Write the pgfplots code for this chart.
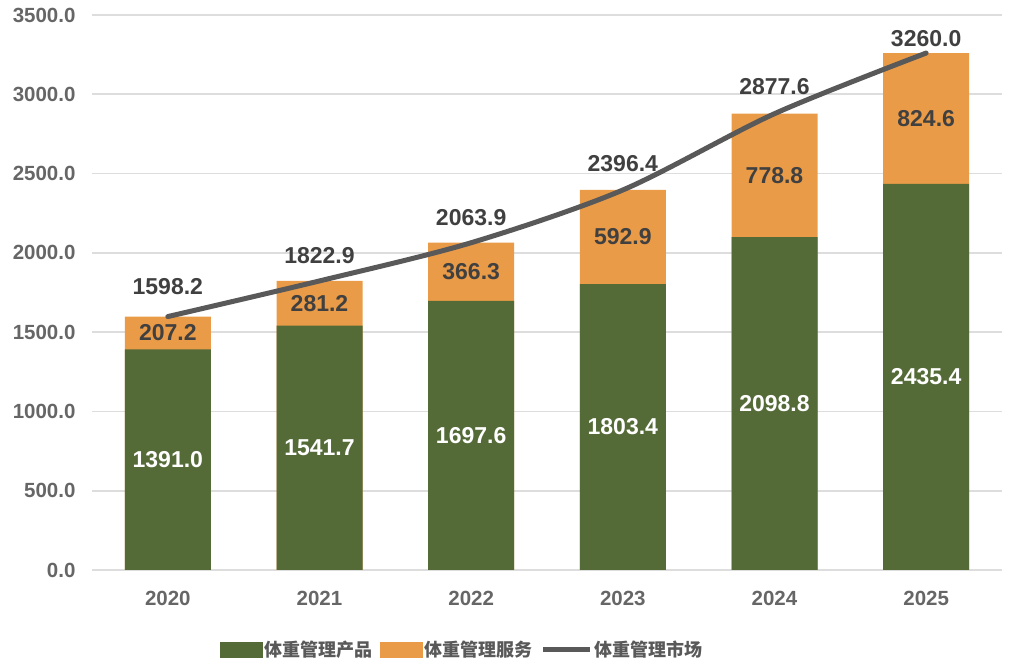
\documentclass[border=0pt]{standalone}
\usepackage{pgfplots}
\pgfplotsset{compat=1.18}
\usepackage{pgfplotstable}
\usepackage{fontspec}
\setmainfont{Liberation Sans}
\newfontfamily\cjk{Noto Sans CJK SC}
\definecolor{cgreen}{HTML}{546B38}
\definecolor{corange}{HTML}{E99B48}
\definecolor{cline}{HTML}{595959}
\definecolor{cgrid}{HTML}{DDDDDD}
\definecolor{ctick}{HTML}{666666}
\definecolor{clabel}{HTML}{404040}

\pgfplotstableread{
x p s t ty
0 1391.0 207.2 1598.2 1785
1 1541.7 281.2 1822.9 1980
2 1697.6 366.3 2063.9 2220
3 1803.4 592.9 2396.4 2560
4 2098.8 778.8 2877.6 3046
5 2435.4 824.6 3260.0 3352
}\data

\begin{document}
\begin{tikzpicture}
\useasboundingbox (0,0) rectangle (1010pt,671pt);
\begin{axis}[
  at={(92pt,101pt)}, anchor=south west, scale only axis,
  width=910pt, height=555pt,
  xmin=-0.5, xmax=5.5, ymin=0, ymax=3500,
  xtick={0,...,5}, xticklabels={2020,2021,2022,2023,2024,2025},
  ytick={0,500,...,3500},
  yticklabel={\pgfmathprintnumber[fixed,fixed zerofill,precision=1,1000 sep={}]{\tick}},
  /pgf/number format/assume math mode=true,
  axis line style={draw=none},
  major tick length=0pt,
  ymajorgrids, grid style={cgrid, line width=1.6pt},
  tick label style={font=\bfseries\fontsize{20.5}{24}\selectfont, text=ctick},
  yticklabel style={xshift=-13pt},
  xticklabel style={yshift=-18pt},
  clip=false,
  legend style={at={(0.407,-0.144)}, anchor=center, draw=none, fill=none,
    legend columns=3, font=\cjk\bfseries\fontsize{18}{20}\selectfont, text=cline,
    /tikz/every even column/.append style={column sep=6pt}},
]
\addlegendimage{legend image code/.code={\fill[cgreen] (0pt,-7pt) rectangle (42pt,8pt);}}
\addlegendentry{体重管理产品}
\addlegendimage{legend image code/.code={\fill[corange] (0pt,-7pt) rectangle (42pt,8pt);}}
\addlegendentry{体重管理服务}
\addlegendimage{legend image code/.code={\draw[cline, line width=5pt] (0pt,0.5pt) -- (47pt,0.5pt);}}
\addlegendentry{体重管理市场}

\addplot[forget plot, ybar, bar width=86pt, bar shift=0pt, fill=corange, draw=none] table[x=x, y=t] {\data};
\addplot[forget plot, ybar, bar width=86pt, bar shift=0pt, fill=cgreen, draw=none] table[x=x, y=p] {\data};
\addplot[forget plot, smooth, cline, line width=5pt, no marks, line cap=round] table[x=x, y=t] {\data};

% product labels
\addplot[forget plot, draw=none, no marks, nodes near coords, point meta=explicit symbolic,
  nodes near coords align={center},
  every node near coord/.style={text=white, font=\bfseries\fontsize{23}{26}\selectfont}]
  table[x=x, y expr=\thisrow{p}/2, meta=p] {\data};
% service labels
\addplot[forget plot, draw=none, no marks, nodes near coords, point meta=explicit symbolic,
  nodes near coords align={center},
  every node near coord/.style={text=clabel, font=\bfseries\fontsize{23}{26}\selectfont}]
  table[x=x, y expr=\thisrow{p}+\thisrow{s}/2, meta=s] {\data};
% total labels
\addplot[forget plot, draw=none, no marks, nodes near coords, point meta=explicit symbolic,
  nodes near coords align={center},
  every node near coord/.style={text=clabel, font=\bfseries\fontsize{23}{26}\selectfont}]
  table[x=x, y=ty, meta=t] {\data};
\end{axis}
\end{tikzpicture}
\end{document}
